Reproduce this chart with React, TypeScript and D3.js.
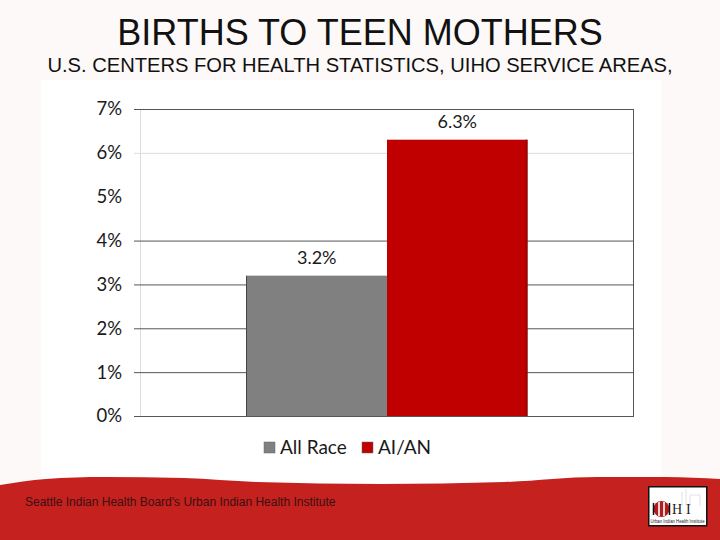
import React, { useEffect, useRef } from "react";
import * as d3 from "d3";

const titleText = "BIRTHS TO TEEN MOTHERS";
const subtitleText = "U.S. CENTERS FOR HEALTH STATISTICS, UIHO SERVICE AREAS,";
const footerText = "Seattle Indian Health Board's Urban Indian Health Institute";

const categories = ["All Race", "AI/AN"];
const values = [3.2, 6.3];
const barColors = ["#808080", "#c00000"];
const yTicks = [0, 1, 2, 3, 4, 5, 6, 7];
// the source picture lost most of the 5% and 6% gridlines
const faintTicks = [6];
const missingTicks = [5];

const width = 720;
const height = 540;
const chartFont = "Lato, sans-serif";
const slideFont = "'Liberation Sans', Arial, sans-serif";

const App: React.FC = () => {
  const ref = useRef<SVGSVGElement | null>(null);

  useEffect(() => {
    if (!ref.current) return;
    const svg = d3.select(ref.current);
    svg.selectAll("*").remove();

    // slide background and white chart picture
    svg.append("rect").attr("width", width).attr("height", height).attr("fill", "#fdf9f8");
    svg.append("rect").attr("x", 41).attr("y", 80).attr("width", 620).attr("height", 410).attr("fill", "#ffffff");

    // red footer band with the wavy top edge
    const wave: [number, number][] = [
      [0, 485], [46, 479], [105, 477], [184, 478], [257, 482],
      [381, 484], [505, 482], [597, 477], [666, 477], [720, 479],
    ];
    const band = d3.area<[number, number]>()
      .x(d => d[0])
      .y0(height)
      .y1(d => d[1])
      .curve(d3.curveMonotoneX);
    svg.append("path").attr("d", band(wave) || "").attr("fill", "#c4211f");

    svg.append("text")
      .attr("x", 360).attr("y", 45)
      .attr("text-anchor", "middle")
      .attr("font-family", slideFont).attr("font-size", 36)
      .attr("fill", "#111")
      .text(titleText);
    svg.append("text")
      .attr("x", 360).attr("y", 72)
      .attr("text-anchor", "middle")
      .attr("font-family", slideFont).attr("font-size", 20.15)
      .attr("fill", "#111")
      .text(subtitleText);
    svg.append("text")
      .attr("x", 25).attr("y", 506)
      .attr("font-family", slideFont).attr("font-size", 12)
      .attr("fill", "#3a1010")
      .text(footerText);

    // chart
    const left = 140, right = 633, top = 109, bottom = 416;
    const y = d3.scaleLinear().domain([0, 7]).range([bottom, top]);
    const x = d3.scaleBand<string>().domain(categories).range([246.5, 527.5]);

    // light left edge of the plot
    svg.append("line")
      .attr("x1", left + 0.5).attr("x2", left + 0.5).attr("y1", top).attr("y2", bottom)
      .attr("stroke", "#dcdcdc").attr("stroke-width", 1);
    svg.append("line")
      .attr("x1", right + 0.5).attr("x2", right + 0.5).attr("y1", top).attr("y2", bottom + 1)
      .attr("stroke", "#555").attr("stroke-width", 1);

    const grid = svg.append("g")
      .attr("transform", `translate(${right},0)`)
      .call(
        d3.axisLeft(y)
          .tickValues(yTicks)
          .tickSize(right - 134)
          .tickFormat(() => "")
      );
    grid.select(".domain").remove();
    grid.selectAll<SVGLineElement, number>("line")
      .attr("stroke", d => (faintTicks.includes(d) ? "#dcdcdc" : "#555"))
      .attr("stroke-opacity", d => (missingTicks.includes(d) ? 0 : 1));

    const labels = svg.append("g")
      .attr("transform", "translate(122,0)")
      .call(d3.axisLeft(y).tickValues(yTicks).tickSize(0).tickPadding(0).tickFormat(d => `${d}%`));
    labels.select(".domain").remove();
    labels.selectAll("text")
      .attr("font-family", chartFont).attr("font-size", 18.5)
      .attr("fill", "#1a1a1a");

    // bars
    svg.selectAll("rect.bar")
      .data(values)
      .join("rect")
      .attr("class", "bar")
      .attr("x", (_, i) => x(categories[i]) as number)
      .attr("y", d => y(d))
      .attr("width", x.bandwidth())
      .attr("height", d => y(0) - y(d))
      .attr("fill", (_, i) => barColors[i]);

    // dark edges seen on the outer sides of the bars
    svg.append("line")
      .attr("x1", x(categories[0]) as number).attr("x2", x(categories[0]) as number)
      .attr("y1", y(values[0])).attr("y2", y(0))
      .attr("stroke", "#444").attr("stroke-width", 1);
    svg.append("line")
      .attr("x1", (x(categories[1]) as number) + x.bandwidth() - 1)
      .attr("x2", (x(categories[1]) as number) + x.bandwidth() - 1)
      .attr("y1", y(values[1])).attr("y2", y(0))
      .attr("stroke", "#960808").attr("stroke-width", 2);
    svg.append("line")
      .attr("x1", 134).attr("x2", right).attr("y1", y(0) + 0.5).attr("y2", y(0) + 0.5)
      .attr("stroke", "#555").attr("stroke-width", 1);

    svg.selectAll("text.value")
      .data(values)
      .join("text")
      .attr("class", "value")
      .attr("x", (_, i) => (x(categories[i]) as number) + x.bandwidth() / 2)
      .attr("y", d => y(d) - 12)
      .attr("text-anchor", "middle")
      .attr("font-family", chartFont).attr("font-size", 18)
      .attr("fill", "#1a1a1a")
      .text(d => `${d}%`);

    // legend
    const legendX = [264, 362];
    const legend = svg.selectAll("g.legend")
      .data(categories)
      .join("g")
      .attr("class", "legend")
      .attr("transform", (_, i) => `translate(${legendX[i]},442)`);
    legend.append("rect")
      .attr("width", 11).attr("height", 11)
      .attr("fill", (_, i) => barColors[i])
      .attr("stroke", "#666").attr("stroke-width", 0.5);
    legend.append("text")
      .attr("x", 16).attr("y", 11.5)
      .attr("font-family", chartFont).attr("font-size", 19)
      .attr("fill", "#1a1a1a")
      .text(d => d);

    // UIHI logo
    const logo = svg.append("g").attr("transform", "translate(648,486)");
    logo.append("rect")
      .attr("x", 0.75).attr("y", 0.75).attr("width", 58).attr("height", 39)
      .attr("fill", "#fff").attr("stroke", "#111").attr("stroke-width", 1.5);
    // faint skyline behind the letters
    logo.append("path")
      .attr("d", "M34 20 V6 M38 20 V3 M42 20 V9 H52 V20")
      .attr("fill", "none").attr("stroke", "#e2e2e2").attr("stroke-width", 1);
    logo.append("circle").attr("cx", 13.5).attr("cy", 23).attr("r", 8).attr("fill", "#b01c20");
    [11, 16].forEach(cx => {
      logo.append("rect")
        .attr("x", cx - 0.8).attr("y", 16).attr("width", 1.6).attr("height", 14)
        .attr("fill", "#fff");
    });
    logo.append("path")
      .attr("d", "M5.5 29 V17 M21.5 29 V17")
      .attr("stroke", "#111").attr("stroke-width", 1.5);
    logo.append("text")
      .attr("x", 24).attr("y", 28)
      .attr("font-family", "'Liberation Serif', serif").attr("font-size", 14)
      .attr("letter-spacing", 4)
      .attr("fill", "#222")
      .text("HI");
    logo.append("text")
      .attr("x", 29.5).attr("y", 37)
      .attr("text-anchor", "middle")
      .attr("font-family", slideFont).attr("font-size", 5)
      .attr("textLength", 54)
      .attr("lengthAdjust", "spacingAndGlyphs")
      .attr("fill", "#222")
      .text("Urban Indian Health Institute");
  }, []);

  return (
    <svg
      ref={ref}
      width={width}
      height={height}
      style={{ position: "absolute", left: 0, top: 0, display: "block" }}
    />
  );
};

export default App;
